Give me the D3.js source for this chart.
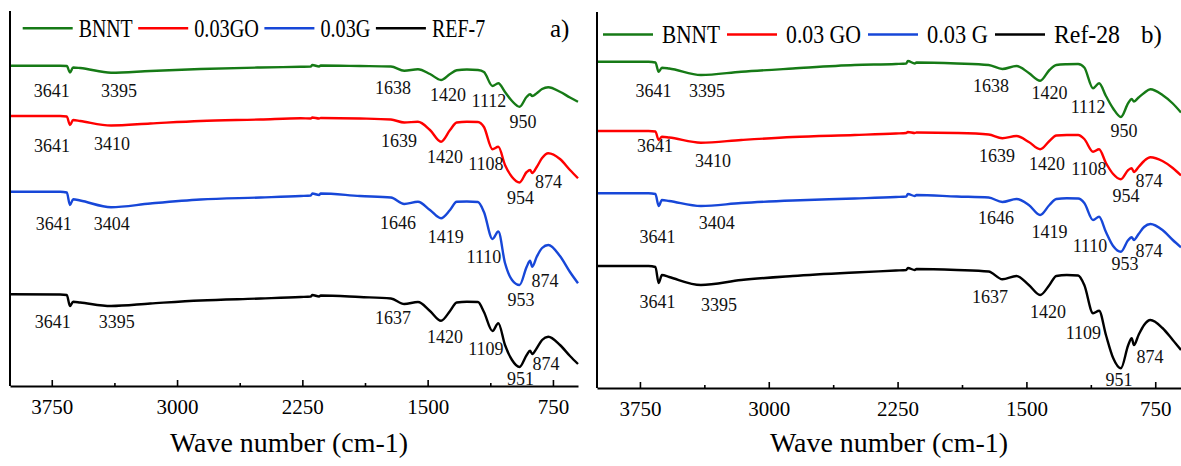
<!DOCTYPE html>
<html>
<head>
<meta charset="utf-8">
<script src="https://cdn.jsdelivr.net/npm/d3@7"></script>
<style>
  html, body { margin: 0; padding: 0; background: #fff; }
  svg { display: block; font-family: 'Liberation Serif', 'DejaVu Serif', serif; }
</style>
</head>
<body>
<svg id="chart" width="1181" height="466"></svg>
<script>
// wavenumber grid (cm-1) shared by every trace
const waveNumbers = [4000, 3700, 3660, 3641, 3622, 3580, 3395, 3160, 2860, 2500,
  2260, 2200, 2190, 2150, 2140, 1905, 1720, 1640, 1558, 1486,
  1420, 1366, 1326, 1265, 1199, 1163, 1112, 1077, 1037, 995,
  950, 907, 887, 874, 847, 815, 778, 708, 648, 600];

// panel a) traces, transmittance in arbitrary units (stacked)
const bnntA = [128.1, 128.1, 128.0, 125.4, 127.4, 127.2, 125.3, 126.0, 126.8, 127.4,
  127.7, 127.8, 128.4, 127.8, 128.2, 128.0, 127.8, 126.1, 126.7, 124.8,
  122.4, 124.8, 126.3, 126.6, 126.4, 125.6, 120.0, 121.1, 117.6, 114.0,
  111.7, 115.7, 116.7, 116.0, 117.1, 118.8, 119.5, 117.7, 115.4, 113.7];
const goA = [108.0, 108.0, 107.8, 104.4, 106.4, 106.0, 104.2, 105.0, 106.0, 106.6,
  107.1, 107.0, 107.4, 107.0, 107.2, 107.0, 106.6, 105.4, 105.7, 102.4,
  97.7, 102.4, 105.4, 105.7, 105.6, 103.6, 94.7, 95.7, 88.4, 83.6,
  81.4, 85.6, 86.4, 85.2, 87.6, 91.2, 93.1, 90.8, 86.4, 83.1];
const gA = [77.7, 77.7, 77.4, 72.4, 74.7, 74.2, 71.5, 73.0, 74.6, 75.4,
  76.0, 76.2, 77.0, 76.4, 77.0, 76.0, 75.4, 72.8, 73.7, 70.4,
  67.1, 70.4, 73.7, 73.8, 73.6, 69.6, 58.8, 61.8, 49.2, 42.4,
  40.4, 47.7, 50.1, 47.7, 51.7, 55.2, 56.4, 52.0, 45.6, 41.1];
const refA = [36.7, 36.6, 36.4, 32.0, 33.7, 33.4, 32.0, 33.0, 34.2, 35.0,
  35.6, 35.8, 36.4, 35.8, 36.2, 35.6, 35.0, 32.8, 33.6, 30.0,
  26.1, 30.0, 33.4, 33.7, 33.6, 29.6, 22.0, 25.1, 16.4, 10.4,
  7.6, 12.4, 14.1, 12.8, 15.1, 18.4, 19.7, 16.4, 12.0, 8.8];

// panel b) traces
const bnntB = [130.5, 130.5, 130.2, 126.5, 128.1, 127.8, 125.2, 126.5, 127.8, 129.2,
  129.6, 129.8, 130.8, 129.8, 130.2, 129.8, 129.2, 127.6, 128.8, 126.0,
  122.9, 127.2, 129.2, 129.5, 129.6, 128.2, 119.9, 121.9, 116.8, 111.8,
  108.4, 114.0, 115.6, 114.6, 116.2, 118.0, 119.5, 117.2, 113.8, 110.2];
const goB = [102.8, 102.8, 102.6, 99.2, 100.5, 100.2, 98.1, 99.2, 100.4, 101.2,
  101.8, 102.0, 102.4, 102.0, 102.2, 102.0, 101.4, 99.9, 100.8, 98.4,
  95.5, 98.8, 101.0, 101.2, 101.2, 99.6, 94.5, 95.5, 90.0, 85.6,
  83.5, 87.2, 87.9, 86.4, 88.4, 90.8, 92.3, 90.8, 88.0, 85.0];
const gB = [77.9, 77.9, 77.6, 72.8, 75.2, 74.8, 72.8, 74.0, 75.0, 75.8,
  76.4, 76.6, 77.6, 76.8, 77.2, 76.6, 76.2, 74.4, 75.6, 73.2,
  69.2, 73.2, 75.6, 75.9, 75.8, 74.0, 67.2, 68.5, 62.4, 56.8,
  54.5, 59.2, 60.3, 59.2, 61.6, 64.4, 65.6, 63.2, 59.2, 56.3];
const refB = [48.8, 48.8, 48.4, 42.0, 45.2, 44.4, 41.2, 43.2, 44.8, 46.2,
  47.0, 47.2, 48.0, 47.2, 47.6, 47.2, 46.6, 43.5, 44.8, 41.2,
  37.2, 41.2, 44.8, 45.2, 45.0, 41.2, 29.9, 30.9, 21.2, 12.0,
  7.9, 17.2, 19.9, 17.2, 21.2, 25.2, 27.2, 24.0, 19.2, 15.2];

const namesA = ['BNNT', '0.03GO', '0.03G', 'REF-7'];
const namesB = ['BNNT', '0.03 GO', '0.03 G', 'Ref-28'];
const colors = ['#167a16', '#ff0000', '#1747d8', '#000000'];

const tickValues = [3750, 3000, 2250, 1500, 750];
const minorTicks = [3375, 2625, 1875, 1125];

// peak labels: [text, wavenumber at label centre, level]
const peaksA = [
  ['3641', 3750, 115.7], ['3395', 3348, 115.7], ['1638', 1707, 116.8], ['1420', 1378, 114.0], ['1112', 1133, 111.7], ['950', 929, 103.1],
  ['3641', 3749, 93.7], ['3410', 3389, 94.4], ['1639', 1671, 95.5], ['1420', 1396, 89.3], ['1108', 1151, 86.4], ['954', 944, 72.7], ['874', 777, 79.1],
  ['3641', 3738, 62.4], ['3404', 3391, 62.4], ['1646', 1677, 62.7], ['1419', 1392, 57.3], ['1110', 1163, 49.1], ['874', 797, 39.5], ['953', 941, 32.0],
  ['3641', 3744, 23.1], ['3395', 3361, 23.1], ['1637', 1707, 24.8], ['1420', 1396, 17.1], ['1109', 1151, 12.4], ['874', 791, 6.4], ['951', 944, 0.4]
];
const peaksB = [
  ['3641', 3671, 116.3], ['3395', 3360, 116.3], ['1638', 1706, 118.5], ['1420', 1366, 115.5], ['1112', 1141, 110.1], ['950', 932, 100.5],
  ['3641', 3662, 94.5], ['3410', 3325, 88.5], ['1639', 1671, 90.5], ['1420', 1380, 87.2], ['1108', 1136, 85.2], ['874', 786, 80.5], ['954', 920, 74.5],
  ['3641', 3648, 57.9], ['3404', 3303, 63.5], ['1646', 1677, 65.6], ['1419', 1366, 59.9], ['1110', 1130, 54.5], ['874', 786, 52.5], ['953', 926, 47.2],
  ['3641', 3648, 31.9], ['3395', 3290, 30.9], ['1637', 1712, 34.1], ['1420', 1374, 27.9], ['1109', 1168, 19.5], ['874', 780, 10.1], ['951', 961, 0.8]
];

const panels = [
  {
    series: [bnntA, goA, gA, refA], names: namesA, peaks: peaksA,
    x0: 10, x1: 578, y0: 11, y1: 386,
    legend: { x: 22.7, y: 28.3, line: 50, gapText: 6, gapLine: 5.5, widths: [54, 64.7, 50, 53.3] },
    tag: 'a)', tagX: 550, titleX: 289
  },
  {
    series: [bnntB, goB, gB, refB], names: namesB, peaks: peaksB,
    x0: 597, x1: 1181, y0: 12, y1: 388,
    legend: { x: 603, y: 34.5, line: 50, gapText: 9, gapLine: 7, widths: [58, 75, 61, 66] },
    tag: 'b)', tagX: 1141, titleX: 889
  }
];

const svg = d3.select('#chart');

panels.forEach(p => {
  const g = svg.append('g');

  const x = d3.scaleLinear().domain([4000, 600]).range([p.x0, p.x1]);
  const y = d3.scaleLinear().domain([0, 150]).range([p.y1, p.y1 - 375]);

  // traces
  const line = d3.line()
    .x((d, i) => x(waveNumbers[i]))
    .y(d => y(d))
    .curve(d3.curveMonotoneX);

  g.selectAll('path.trace')
    .data(p.series)
    .enter()
    .append('path')
    .attr('class', 'trace')
    .attr('d', line)
    .attr('fill', 'none')
    .attr('stroke', (d, i) => colors[i])
    .attr('stroke-width', 2.4)
    .attr('stroke-linejoin', 'round');

  // peak labels
  g.selectAll('text.peak')
    .data(p.peaks)
    .enter()
    .append('text')
    .attr('class', 'peak')
    .attr('x', d => x(d[1]))
    .attr('y', d => y(d[2]))
    .attr('text-anchor', 'middle')
    .attr('font-size', 18)
    .attr('fill', '#111')
    .text(d => d[0]);

  // x axis, ticks pointing inward
  const xAxis = g.append('g')
    .attr('transform', `translate(0,${p.y1})`)
    .call(d3.axisBottom(x).tickValues(tickValues).tickSizeInner(-6).tickSizeOuter(0).tickPadding(13).tickFormat(d3.format('d')));
  xAxis.select('.domain').attr('stroke-width', 2);
  xAxis.selectAll('.tick line').attr('stroke-width', 1.6);
  xAxis.selectAll('.tick text')
    .attr('font-family', "'Liberation Serif', serif")
    .attr('font-size', 21)
    .attr('fill', '#000');

  const minor = g.append('g')
    .attr('transform', `translate(0,${p.y1})`)
    .call(d3.axisBottom(x).tickValues(minorTicks).tickSizeInner(-3).tickSizeOuter(0).tickFormat(''));
  minor.select('.domain').remove();
  minor.selectAll('.tick line').attr('stroke-width', 1.6);

  // y axis is a bare line from the top of the panel
  const yAxis = g.append('g')
    .attr('transform', `translate(${p.x0},0)`)
    .call(d3.axisLeft(y).tickValues([]).tickSizeOuter(0));
  yAxis.select('.domain').attr('d', `M0,${p.y1}V${p.y0}`).attr('stroke-width', 2);

  // axis title
  g.append('text')
    .attr('x', p.titleX)
    .attr('y', 452)
    .attr('text-anchor', 'middle')
    .attr('font-size', 27)
    .attr('textLength', 238)
    .attr('lengthAdjust', 'spacingAndGlyphs')
    .text('Wave number (cm-1)');

  // legend, laid out left to right
  let cx = p.legend.x;
  p.names.forEach((name, i) => {
    g.append('line')
      .attr('x1', cx).attr('x2', cx + p.legend.line)
      .attr('y1', p.legend.y).attr('y2', p.legend.y)
      .attr('stroke', colors[i])
      .attr('stroke-width', 2.4);
    cx += p.legend.line + p.legend.gapText;
    g.append('text')
      .attr('x', cx)
      .attr('y', p.legend.y + 8.4)
      .attr('font-size', 25)
      .attr('textLength', p.legend.widths[i])
      .attr('lengthAdjust', 'spacingAndGlyphs')
      .text(name);
    cx += p.legend.widths[i] + p.legend.gapLine;
  });

  g.append('text')
    .attr('x', p.tagX)
    .attr('y', p.legend.y + 8.4)
    .attr('font-size', 25)
    .text(p.tag);
});
</script>
</body>
</html>
